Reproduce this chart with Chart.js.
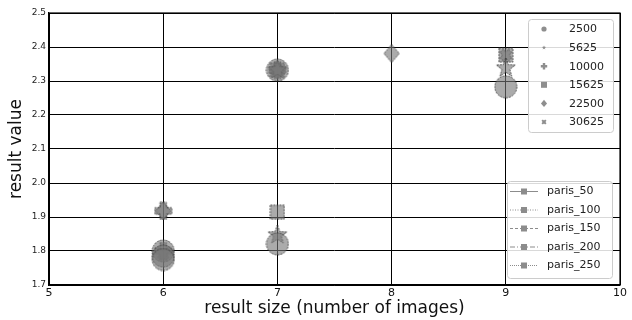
<!DOCTYPE html>
<html>
<head>
<meta charset="utf-8">
<script src="https://cdn.jsdelivr.net/npm/chart.js@4"></script>
<style>
  html, body { margin: 0; padding: 0; background: #fff; }
  #wrap { width: 632px; height: 320px; position: relative; }
</style>
</head>
<body>
<div id="wrap"><canvas id="c" width="632" height="320"></canvas></div>
<script>
// Result sizes (x) and result values (y) for each parameter setting
const seriesLabels = ['2500', '5625', '10000', '15625', '22500', '30625'];
const sizes2500  = [6, 6, 6, 7, 7, 9];
const values2500 = [1.80, 1.785, 1.775, 2.332, 1.821, 2.283];
const sizes5625  = [7, 7, 9];
const values5625 = [2.332, 1.847, 2.338];
const sizes10000  = [6, 7, 6];
const values10000 = [1.918, 2.332, 1.80];
const sizes15625  = [7, 7, 9];
const values15625 = [2.332, 1.914, 2.376];
const sizes22500  = [6, 7, 8];
const values22500 = [1.918, 2.332, 2.381];
const sizes30625  = [6, 7, 9];
const values30625 = [1.79, 2.332, 2.376];

const lineLabels = ['paris_50', 'paris_100', 'paris_150', 'paris_200', 'paris_250'];
const xTicks = [5, 6, 7, 8, 9, 10];
const yTicks = [1.7, 1.8, 1.9, 2.0, 2.1, 2.2, 2.3, 2.4, 2.5];

const FILL = 'rgba(120,120,120,0.62)';
const EDGE = 'rgba(45,45,45,0.75)';
const FONT = "'DejaVu Sans', sans-serif";

// Marker outlines, centred at (0,0) with half-size r
function pathFor(g, kind, r) {
  g.beginPath();
  if (kind === 'circle') {
    g.arc(0, 0, r, 0, Math.PI * 2);
  } else if (kind === 'star') {
    for (let k = 0; k < 10; k++) {
      const rr = k % 2 === 0 ? r : r * 0.42;
      const a = -Math.PI / 2 + k * Math.PI / 5;
      const px = rr * Math.cos(a), py = rr * Math.sin(a);
      if (k === 0) g.moveTo(px, py); else g.lineTo(px, py);
    }
    g.closePath();
  } else if (kind === 'plus' || kind === 'x') {
    if (kind === 'x') g.rotate(Math.PI / 4);
    const a = r * 0.38, b = r;
    g.moveTo(-a, -b); g.lineTo(a, -b); g.lineTo(a, -a); g.lineTo(b, -a);
    g.lineTo(b, a); g.lineTo(a, a); g.lineTo(a, b); g.lineTo(-a, b);
    g.lineTo(-a, a); g.lineTo(-b, a); g.lineTo(-b, -a); g.lineTo(-a, -a);
    g.closePath();
  } else if (kind === 'rect') {
    g.rect(-r, -r, 2 * r, 2 * r);
  } else if (kind === 'rectRot') {
    g.moveTo(0, -r); g.lineTo(r * 0.85, 0); g.lineTo(0, r); g.lineTo(-r * 0.85, 0);
    g.closePath();
  }
}

function markerCanvas(kind, r) {
  const size = Math.ceil(2 * r + 2);
  const c = document.createElement('canvas');
  c.width = size; c.height = size;
  const g = c.getContext('2d');
  g.translate(size / 2, size / 2);
  pathFor(g, kind, r);
  g.fillStyle = FILL; g.fill();
  g.strokeStyle = EDGE; g.lineWidth = 1; g.setLineDash([2, 1]); g.stroke();
  return c;
}

const markerKinds = ['circle', 'star', 'plus', 'rect', 'rectRot', 'x'];
const markerHalf = [11, 10, 8.5, 7, 9, 6];

function pts(xs, ys) { return xs.map((x, i) => ({ x: x, y: ys[i] })); }

const allSizes = [sizes2500, sizes5625, sizes10000, sizes15625, sizes22500, sizes30625];
const allValues = [values2500, values5625, values10000, values15625, values22500, values30625];

const datasets = seriesLabels.map((lab, i) => ({
  label: lab,
  data: pts(allSizes[i], allValues[i]),
  pointStyle: markerCanvas(markerKinds[i], markerHalf[i]),
  pointRadius: markerHalf[i],
  pointHoverRadius: markerHalf[i],
  backgroundColor: FILL,
  borderColor: EDGE,
  showLine: false
}));

const legendHalf = [2.6, 2.2, 3.2, 3, 3.6, 2.6];
function drawMiniMarker(ctx, i, x, y) {
  ctx.save();
  ctx.translate(x, y);
  ctx.fillStyle = '#8e8e8e';
  pathFor(ctx, markerKinds[i], legendHalf[i]);
  ctx.fill();
  ctx.restore();
}

function legendBox(ctx, x, y, w, h) {
  ctx.save();
  ctx.fillStyle = 'rgba(255,255,255,0.85)';
  ctx.strokeStyle = '#cccccc';
  ctx.lineWidth = 1;
  ctx.beginPath();
  ctx.roundRect(x + 0.5, y + 0.5, w, h, 3);
  ctx.fill();
  ctx.stroke();
  ctx.restore();
}

const lineDashes = [[], [1, 1.5], [3, 2], [5, 2, 1, 2], [1, 1]];

const legendsPlugin = {
  id: 'twoLegends',
  afterDraw(chart) {
    const ctx = chart.ctx;
    // parameter legend (markers)
    legendBox(ctx, 528, 19, 85, 113);
    ctx.save();
    ctx.font = '11px ' + FONT;
    ctx.fillStyle = '#222';
    ctx.textBaseline = 'middle';
    seriesLabels.forEach((lab, i) => {
      const yy = 29 + i * 18.6;
      drawMiniMarker(ctx, i, 544, yy);
      ctx.fillText(lab, 569, yy + 0.5);
    });
    ctx.restore();

    // line-style legend
    legendBox(ctx, 507, 181, 105, 97);
    ctx.save();
    ctx.font = '11px ' + FONT;
    ctx.textBaseline = 'middle';
    lineLabels.forEach((lab, i) => {
      const yy = 191 + i * 18.5;
      ctx.strokeStyle = '#8c8c8c';
      ctx.lineWidth = 1;
      ctx.setLineDash(lineDashes[i]);
      ctx.beginPath();
      ctx.moveTo(510, yy + 0.5);
      ctx.lineTo(538, yy + 0.5);
      ctx.stroke();
      ctx.setLineDash([]);
      ctx.fillStyle = '#8c8c8c';
      ctx.fillRect(521, yy - 2.5, 6, 6);
      ctx.fillStyle = '#222';
      ctx.fillText(lab, 547, yy + 0.5);
    });
    ctx.restore();
  }
};

new Chart(document.getElementById('c'), {
  type: 'scatter',
  data: { datasets: datasets },
  options: {
    responsive: false,
    animation: false,
    layout: { padding: { top: 13, right: 10, left: 0, bottom: 0 } },
    plugins: {
      legend: { display: false },
      tooltip: { enabled: false }
    },
    scales: {
      x: {
        type: 'linear',
        min: 5, max: 10,
        afterBuildTicks(scale) { scale.ticks = xTicks.map(v => ({ value: v })); },
        afterFit(scale) { scale.height = 35; },
        grid: { color: '#000', lineWidth: 1, drawTicks: false },
        border: { color: '#000', width: 1.2 },
        ticks: { color: '#111', font: { family: FONT, size: 11 }, padding: 2, callback: v => String(v) },
        title: { display: true, text: 'result size (number of images)', color: '#111', font: { family: FONT, size: 17 }, padding: { top: 0, bottom: 1 } }
      },
      y: {
        type: 'linear',
        min: 1.7, max: 2.5,
        afterBuildTicks(scale) { scale.ticks = yTicks.map(v => ({ value: v })); },
        afterFit(scale) { scale.width = 49; },
        grid: { color: '#000', lineWidth: 1, drawTicks: false },
        border: { color: '#000', width: 1.2 },
        ticks: { color: '#222', font: { family: FONT, size: 9 }, padding: 3, callback: v => Number(v).toFixed(1) },
        title: { display: true, text: 'result value', color: '#111', font: { family: FONT, size: 17 }, padding: { top: 6, bottom: 0 } }
      }
    }
  },
  plugins: [legendsPlugin, {
    id: 'frame',
    afterDraw(chart) {
      const a = chart.chartArea, ctx = chart.ctx;
      ctx.save();
      ctx.strokeStyle = '#000';
      ctx.lineWidth = 1.2;
      ctx.strokeRect(a.left, a.top, a.right - a.left, a.bottom - a.top);
      ctx.restore();
    }
  }]
});
</script>
</body>
</html>
